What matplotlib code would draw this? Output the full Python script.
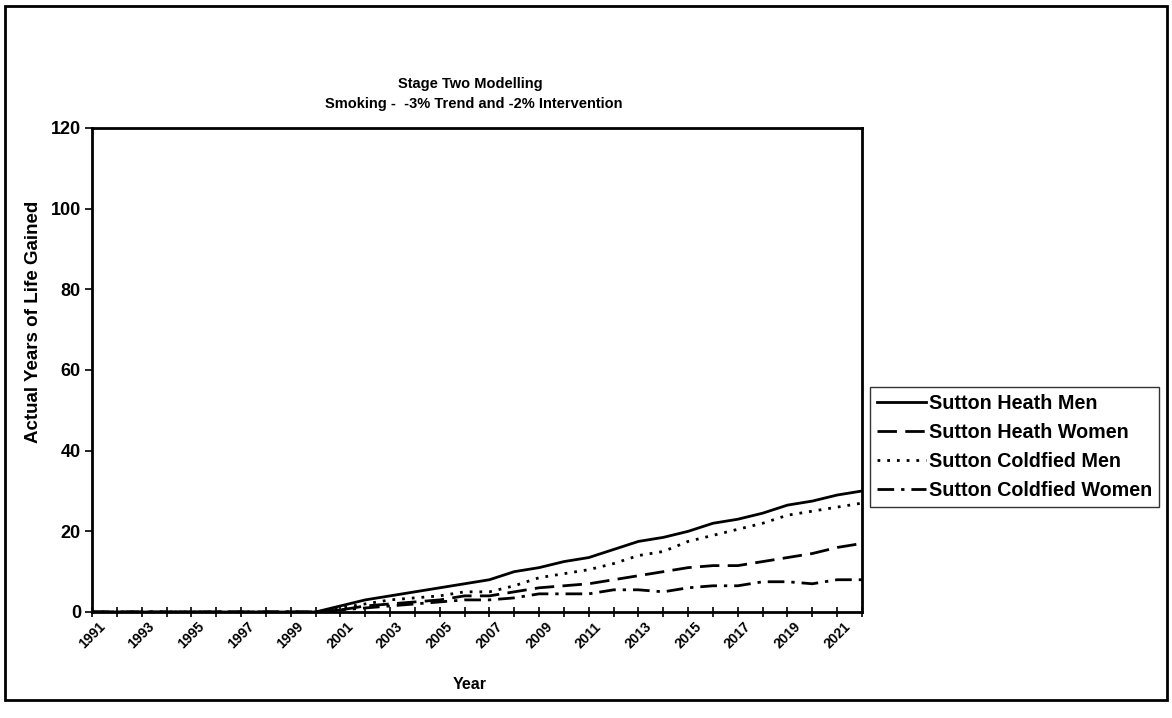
import matplotlib
matplotlib.use("Agg")
import matplotlib.pyplot as plt
from matplotlib.patches import Rectangle
from matplotlib import font_manager

plt.rcParams["font.family"] = ["Liberation Sans", "DejaVu Sans"]
plt.rcParams["font.weight"] = "bold"

# Data
years = list(range(1991, 2023))
heath_men = [0] * 10 + [1.5, 3, 4, 5, 6, 7, 8, 10, 11, 12.5, 13.5, 15.5,
                        17.5, 18.5, 20, 22, 23, 24.5, 26.5, 27.5, 29, 30]
heath_women = [0] * 10 + [0.5, 1.5, 2, 2.5, 3, 4, 4, 5, 6, 6.5, 7, 8,
                          9, 10, 11, 11.5, 11.5, 12.5, 13.5, 14.5, 16, 17]
coldfield_men = [0] * 10 + [1, 2, 3, 3.5, 4, 5, 5, 6.5, 8.5, 9.5, 10.5, 12,
                            14, 15, 17.5, 19, 20.5, 22, 24, 25, 26, 27]
coldfield_women = [0] * 10 + [0.5, 1, 1.5, 2, 2.5, 3, 3, 3.5, 4.5, 4.5, 4.5, 5.5,
                              5.5, 5, 6, 6.5, 6.5, 7.5, 7.5, 7, 8, 8]
series_names = ["Sutton Heath Men", "Sutton Heath Women",
                "Sutton Coldfied Men", "Sutton Coldfied Women"]

names = {f.name for f in font_manager.fontManager.ttflist}
title_family = ["Liberation Sans Narrow"] if "Liberation Sans Narrow" in names else ["Liberation Sans"]

W, H = 1172, 718
fig = plt.figure(figsize=(W / 100, H / 100), dpi=100)
fig.patch.set_facecolor("white")
left, right, top, bottom = 92, 862, 128, 612
ax = fig.add_axes([left / W, 1 - bottom / H, (right - left) / W, (bottom - top) / H])

x = list(range(len(years)))
ax.plot(x, heath_men, color="black", lw=2, ls="-", label=series_names[0])
ax.plot(x, heath_women, color="black", lw=2, ls=(0, (7, 3)), label=series_names[1])
ax.plot(x, coldfield_men, color="black", lw=2, ls=(0, (1, 2.5)), label=series_names[2])
ax.plot(x, coldfield_women, color="black", lw=2, ls=(0, (6, 2.5, 1.2, 2.5)),
        label=series_names[3])

ax.set_xlim(0, len(years) - 1)
ax.set_ylim(0, 120)
ax.set_yticks(range(0, 121, 20))
ax.set_xticks(x)
ax.set_xticklabels([str(y) if (y - 1991) % 2 == 0 else "" for y in years],
                   rotation=45, ha="center", fontsize=10)
ax.tick_params(axis="y", labelsize=13, length=5, width=1.2, pad=3)
ax.tick_params(axis="x", direction="inout", length=7, width=1.2, pad=2)
for s in ax.spines.values():
    s.set_linewidth(2)

ax.set_xlabel("Year", fontsize=11.5, fontweight="bold")
ax.xaxis.set_label_coords(0.49, -(677 - bottom) / (bottom - top), transform=ax.transAxes)
ax.set_ylabel("Actual Years of Life Gained", fontsize=13.5, fontweight="bold")
ax.yaxis.set_label_coords(-(left - 42) / (right - left), 0.6, transform=ax.transAxes)
fig.text(470 / W, 1 - 84 / H, "Stage Two Modelling", ha="center", va="center",
         fontsize=10.5, fontweight="bold", family=title_family)
fig.text(474 / W, 1 - 104 / H, "Smoking -  -3% Trend and -2% Intervention",
         ha="center", va="center", fontsize=10.5, fontweight="bold", family=title_family)

leg = ax.legend(loc="center left", bbox_to_anchor=(870 / W, 1 - 447 / H),
                bbox_transform=fig.transFigure, frameon=True, fancybox=False,
                fontsize=14.2, handlelength=2.5, handletextpad=0.15,
                borderpad=0.35, labelspacing=0.5, borderaxespad=0)
leg.get_frame().set_edgecolor("black")
leg.get_frame().set_linewidth(1.0)

fig.patches.append(Rectangle((5 / W, 1 - 700 / H), 1162 / W, 694 / H,
                             transform=fig.transFigure, fill=False,
                             edgecolor="black", lw=2))

fig.savefig("out.png", dpi=100)
